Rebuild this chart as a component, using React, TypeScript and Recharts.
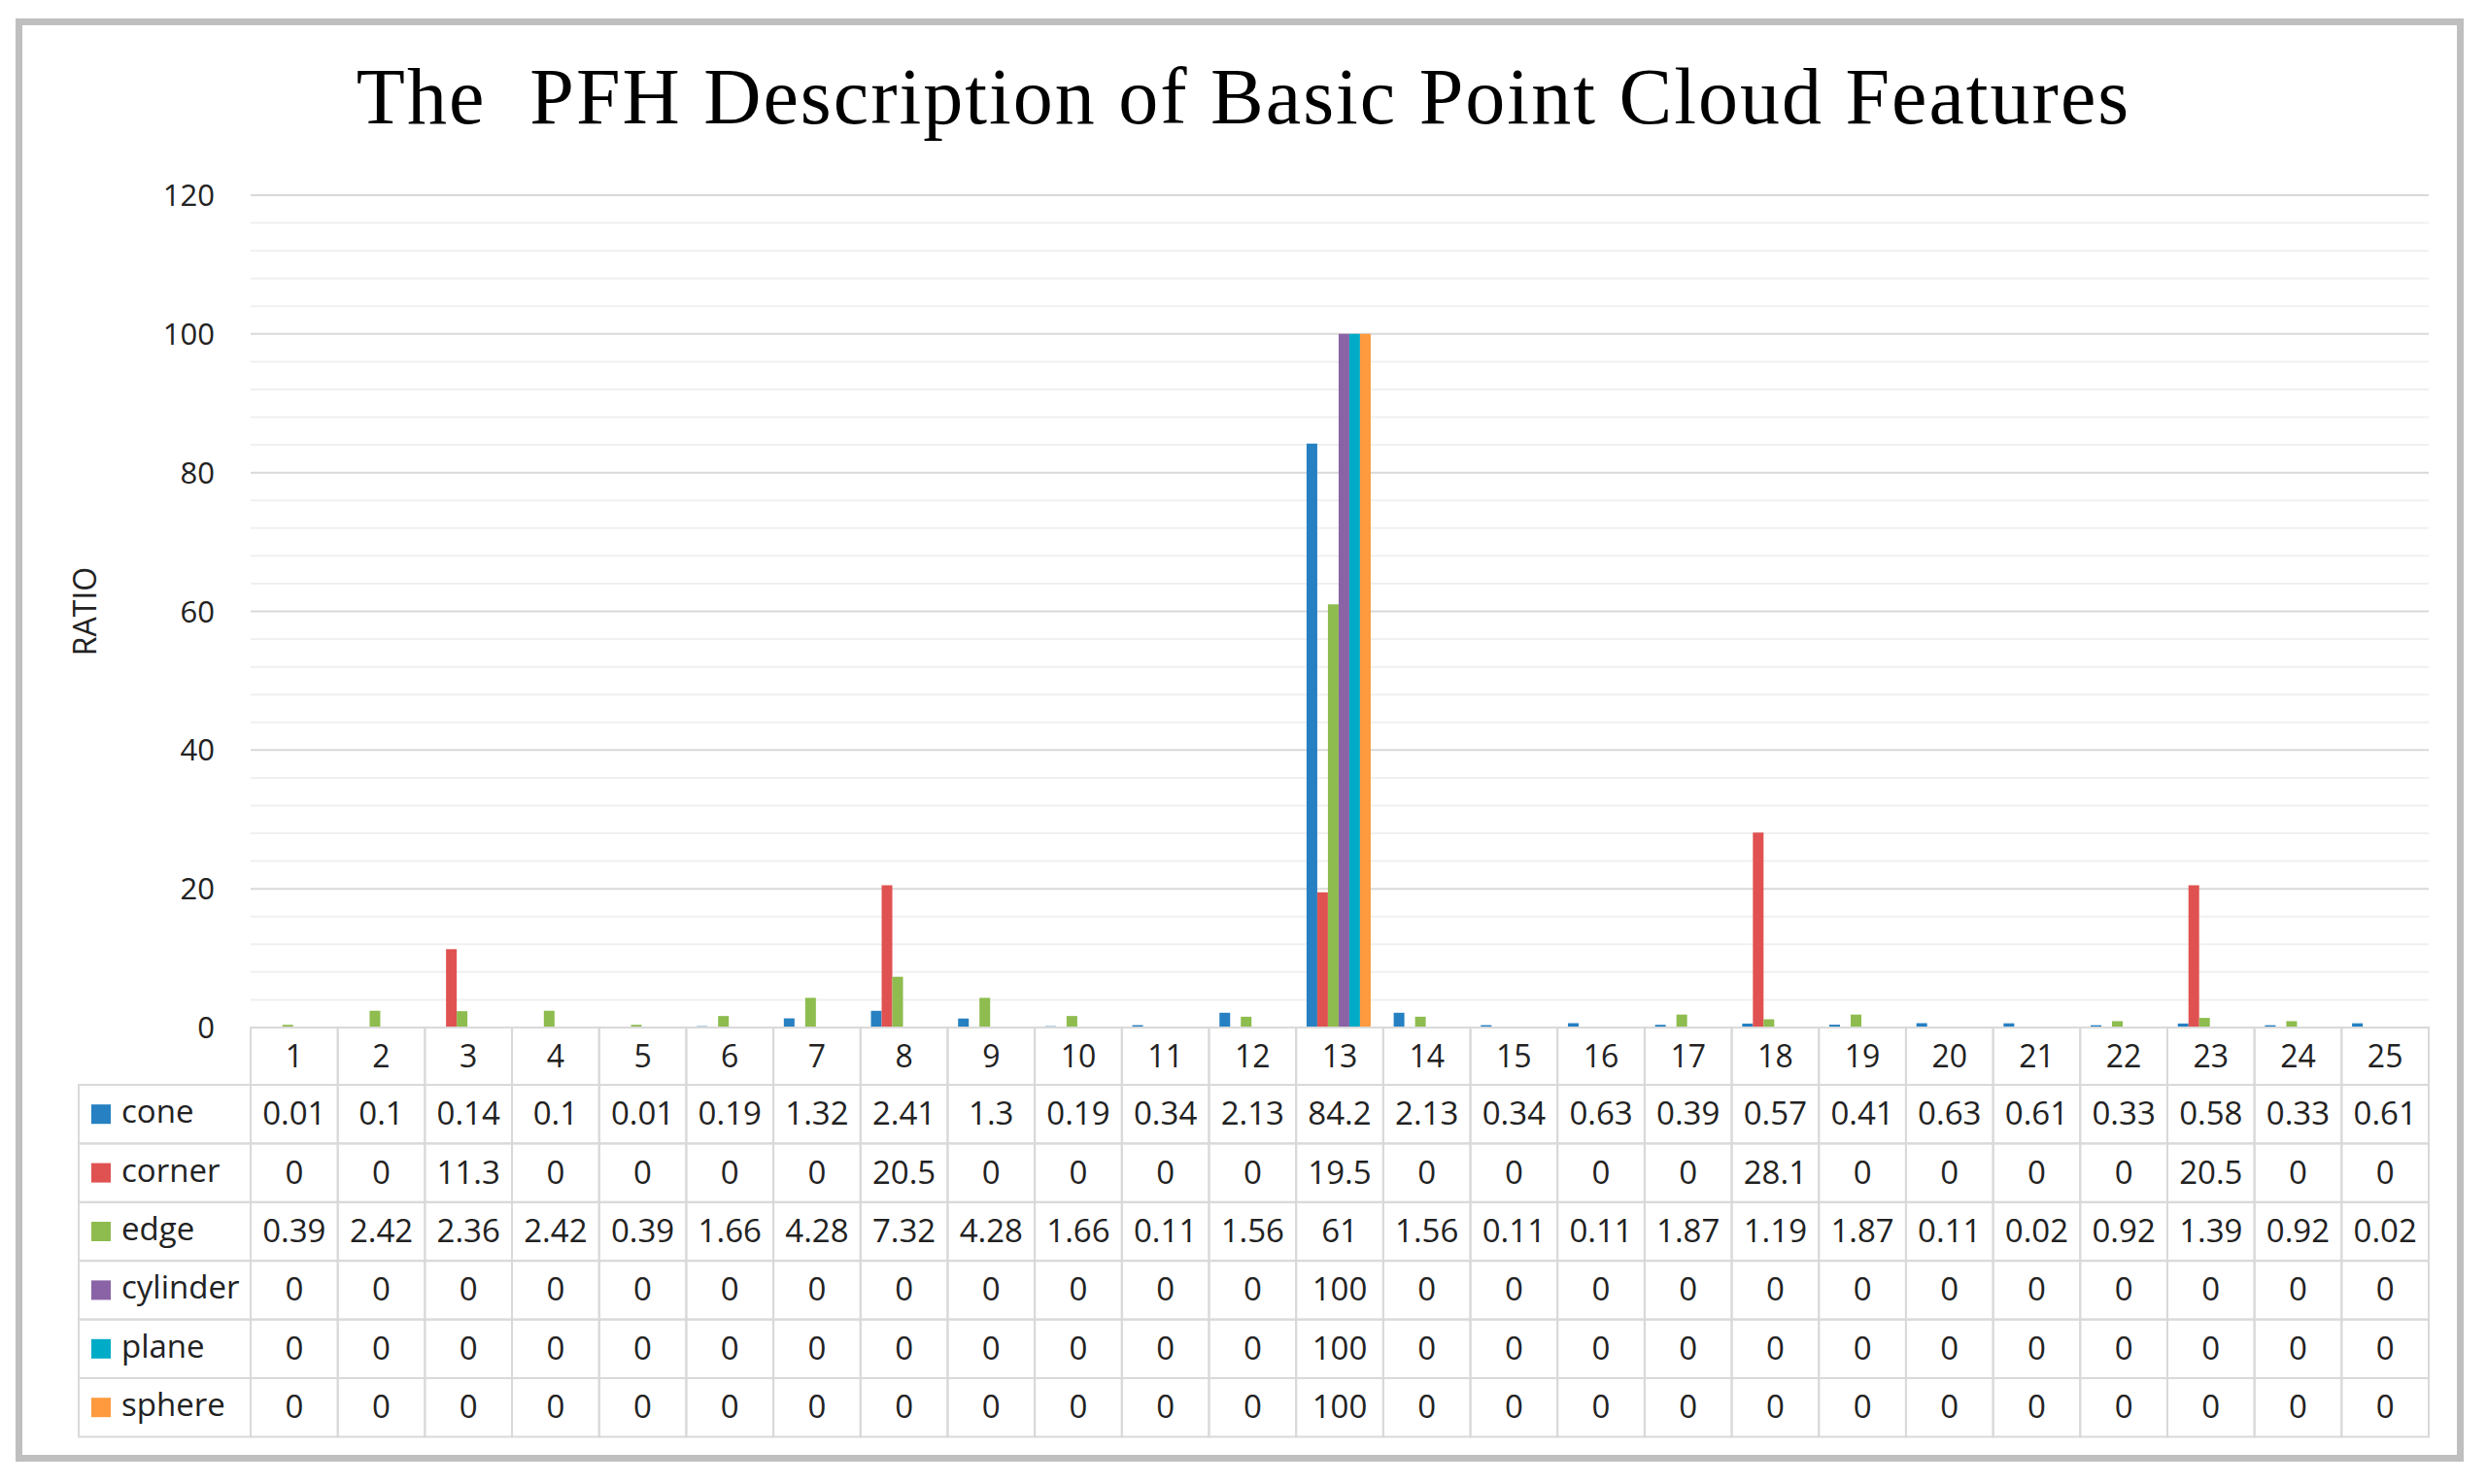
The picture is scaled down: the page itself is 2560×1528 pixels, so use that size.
import React from 'react';
import { BarChart, Bar, XAxis, YAxis, CartesianGrid } from 'recharts';

// bins of the histogram
const categories = [
  '1', '2', '3', '4', '5', '6', '7', '8', '9', '10', '11', '12', '13',
  '14', '15', '16', '17', '18', '19', '20', '21', '22', '23', '24', '25',
];

const cone = [0.01, 0.1, 0.14, 0.1, 0.01, 0.19, 1.32, 2.41, 1.3, 0.19, 0.34, 2.13, 84.2, 2.13, 0.34, 0.63, 0.39, 0.57, 0.41, 0.63, 0.61, 0.33, 0.58, 0.33, 0.61];
const corner = [0, 0, 11.3, 0, 0, 0, 0, 20.5, 0, 0, 0, 0, 19.5, 0, 0, 0, 0, 28.1, 0, 0, 0, 0, 20.5, 0, 0];
const edge = [0.39, 2.42, 2.36, 2.42, 0.39, 1.66, 4.28, 7.32, 4.28, 1.66, 0.11, 1.56, 61, 1.56, 0.11, 0.11, 1.87, 1.19, 1.87, 0.11, 0.02, 0.92, 1.39, 0.92, 0.02];
const cylinder = [0, 0, 0, 0, 0, 0, 0, 0, 0, 0, 0, 0, 100, 0, 0, 0, 0, 0, 0, 0, 0, 0, 0, 0, 0];
const plane = [0, 0, 0, 0, 0, 0, 0, 0, 0, 0, 0, 0, 100, 0, 0, 0, 0, 0, 0, 0, 0, 0, 0, 0, 0];
const sphere = [0, 0, 0, 0, 0, 0, 0, 0, 0, 0, 0, 0, 100, 0, 0, 0, 0, 0, 0, 0, 0, 0, 0, 0, 0];

const seriesNames = ['cone', 'corner', 'edge', 'cylinder', 'plane', 'sphere'];
const seriesValues = [cone, corner, edge, cylinder, plane, sphere];
const seriesColors = ['#2680C2', '#E05252', '#8EBC4F', '#8A63A6', '#00ABC7', '#FF9A3E'];

const yTicks = [0, 20, 40, 60, 80, 100, 120];
const minorTicks = [4, 8, 12, 16, 24, 28, 32, 36, 44, 48, 52, 56, 64, 68, 72, 76, 84, 88, 92, 96, 104, 108, 112, 116];

const data = categories.map((cat, i) => {
  const row: any = { cat };
  seriesNames.forEach((name, s) => { row[name] = seriesValues[s][i]; });
  return row;
});

const W = 2560;
const H = 1528;
const PLOT_LEFT = 258;
const PLOT_RIGHT = 2500;
const PLOT_TOP = 201;
const PLOT_BOTTOM = 1058;
const COL_W = (PLOT_RIGHT - PLOT_LEFT) / categories.length;
const HEAD_H = 59;
const ROW_H = 60.4;
const LEGEND_X = 81;
const GRID = '#D9D9D9';
const TEXT = '#222';
const FONT = '"Open Sans", sans-serif';

// one column of the data table under each bin, legend column drawn with the first
const TableColumn = (props: any) => {
  const { x, y, payload, index } = props;
  const left = x - COL_W / 2;
  const i = payload && payload.index != null ? payload.index : index;
  return (
    <g fontFamily={FONT}>
      <rect x={left} y={y} width={COL_W} height={HEAD_H} fill="none" stroke={GRID} strokeWidth={2} />
      <text x={x} y={y + HEAD_H / 2 + 11} textAnchor="middle" fontSize={32} fill={TEXT}>
        {payload.value}
      </text>
      {seriesValues.map((vals, r) => {
        const top = y + HEAD_H + r * ROW_H;
        return (
          <g key={r}>
            <rect x={left} y={top} width={COL_W} height={ROW_H} fill="none" stroke={GRID} strokeWidth={2} />
            <text x={x} y={top + ROW_H / 2 + 11} textAnchor="middle" fontSize={33} fill={TEXT}>
              {String(vals[i])}
            </text>
          </g>
        );
      })}
      {index === 0 &&
        seriesNames.map((name, r) => {
          const top = y + HEAD_H + r * ROW_H;
          return (
            <g key={name}>
              <rect x={LEGEND_X} y={top} width={left - LEGEND_X} height={ROW_H} fill="none" stroke={GRID} strokeWidth={2} />
              <rect x={LEGEND_X + 13} y={top + ROW_H / 2 - 10} width={20} height={20} fill={seriesColors[r]} />
              <text x={LEGEND_X + 44} y={top + ROW_H / 2 + 9} fontSize={33} fill={TEXT}>
                {name}
              </text>
            </g>
          );
        })}
    </g>
  );
};

const YTick = (props: any) => {
  const { x, y, payload } = props;
  return (
    <text x={x} y={y + 11} textAnchor="end" fontSize={31} fontFamily={FONT} fill={TEXT}>
      {payload.value}
    </text>
  );
};

const minorLines = ({ yAxis, offset }: any) =>
  minorTicks.map((v) =>
    yAxis && typeof yAxis.scale === 'function'
      ? yAxis.scale(v)
      : offset.top + offset.height * (1 - v / 120)
  );

export default function App() {
  return (
    <div style={{ position: 'absolute', left: 0, top: 0, width: W, height: H, background: '#fff', fontFamily: FONT }}>
      <div
        style={{
          position: 'absolute', left: 16, top: 19, width: 2520, height: 1486,
          border: '7px solid #BFBFBF', boxSizing: 'border-box',
        }}
      />
      <div
        style={{
          position: 'absolute', left: 0, top: 50, width: W, textAlign: 'center',
          fontFamily: '"Liberation Serif", serif', fontSize: 82, lineHeight: '100px',
          letterSpacing: 2, whiteSpace: 'pre', color: '#000',
        }}
      >
        {'The  PFH Description of Basic Point Cloud Features'}
      </div>
      <div style={{ position: 'absolute', left: 0, top: 0 }}>
        <BarChart
          width={W}
          height={H}
          data={data}
          margin={{ top: PLOT_TOP, right: W - PLOT_RIGHT, bottom: 0, left: PLOT_LEFT - 100 }}
          barCategoryGap="12%"
          barGap={0}
        >
          <CartesianGrid vertical={false} stroke="#F0F0F0" strokeWidth={2} horizontalCoordinatesGenerator={minorLines} />
          <CartesianGrid vertical={false} stroke={GRID} strokeWidth={2} />
          <XAxis
            dataKey="cat"
            height={H - PLOT_BOTTOM}
            axisLine={false}
            tickLine={false}
            tickSize={0}
            tickMargin={0}
            interval={0}
            tick={TableColumn}
          />
          <YAxis
            width={100}
            domain={[0, 120]}
            ticks={yTicks}
            axisLine={false}
            tickLine={false}
            tickSize={0}
            tickMargin={37}
            tick={YTick}
            label={{
              content: (p: any) => {
                const vb = p.viewBox || { x: 158, y: PLOT_TOP, height: PLOT_BOTTOM - PLOT_TOP };
                const cx = vb.x - 72;
                const cy = vb.y + vb.height / 2;
                return (
                  <text x={cx} y={cy} transform={`rotate(-90 ${cx} ${cy})`} textAnchor="middle" dominantBaseline="central" fontSize={32} fontFamily={FONT} fill={TEXT}>
                    RATIO
                  </text>
                );
              },
            }}
          />
          {seriesNames.map((name, s) => (
            <Bar key={name} dataKey={name} fill={seriesColors[s]} isAnimationActive={false} />
          ))}
        </BarChart>
      </div>
    </div>
  );
}
